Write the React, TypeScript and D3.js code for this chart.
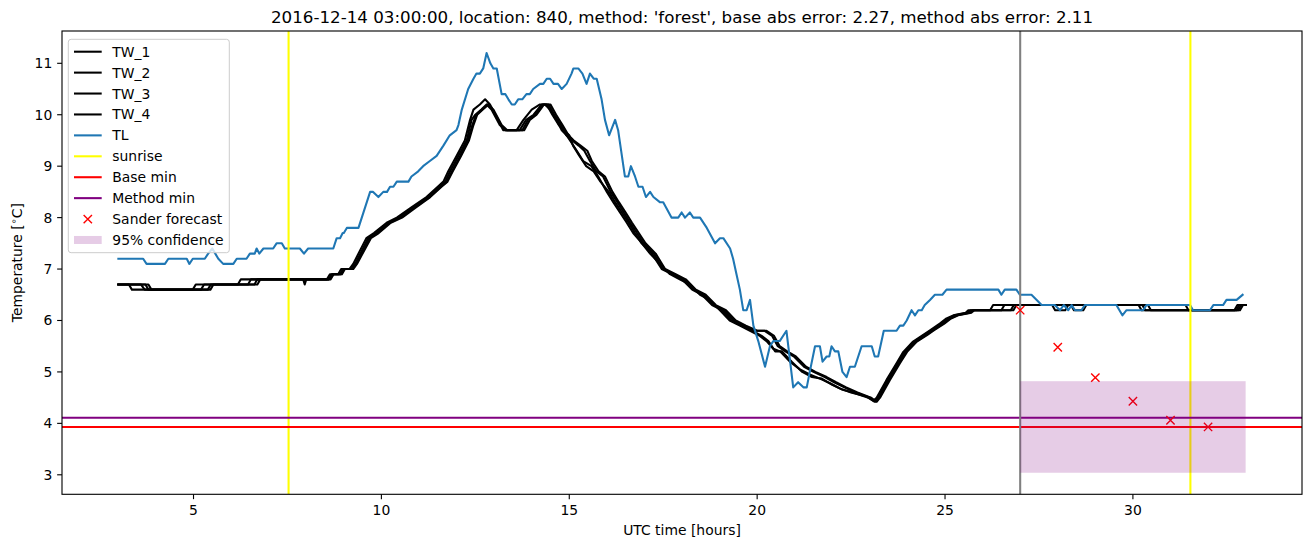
import React from "react";
import * as d3 from "d3";

// ---------- data (hours UTC, temperature °C) ----------
const TL: [number, number][] = [
  [3.0,7.2],[3.66,7.2],[3.75,7.1],[4.24,7.1],[4.33,7.2],[4.82,7.2],[4.89,7.1],[4.98,7.2],[5.3,7.2],[5.39,7.3],[5.5,7.4],[5.58,7.3],[5.66,7.2],[5.79,7.1],[6.06,7.1],[6.15,7.2],[6.41,7.2],[6.5,7.3],[6.63,7.3],[6.68,7.4],[6.75,7.3],[6.86,7.4],[7.12,7.4],[7.21,7.5],[7.35,7.5],[7.43,7.4],[7.83,7.4],[7.94,7.3],[8.05,7.4],[8.72,7.4],[8.81,7.6],[8.9,7.6],[8.97,7.7],[9.0,7.7],[9.08,7.8],[9.39,7.8],[9.7,8.5],[9.78,8.5],[9.92,8.4],[10.05,8.5],[10.15,8.5],[10.23,8.6],[10.32,8.6],[10.41,8.7],[10.72,8.7],[10.8,8.8],[10.98,8.9],[11.11,9.0],[11.29,9.1],[11.47,9.2],[11.65,9.4],[11.82,9.6],[12.0,9.7],[12.05,9.8],[12.14,10.1],[12.31,10.5],[12.45,10.7],[12.53,10.8],[12.62,10.8],[12.71,10.9],[12.8,11.2],[12.9,11.0],[12.98,10.9],[13.07,10.9],[13.2,10.4],[13.3,10.4],[13.38,10.3],[13.47,10.2],[13.55,10.2],[13.64,10.3],[13.75,10.3],[13.86,10.4],[13.95,10.4],[14.04,10.5],[14.22,10.6],[14.31,10.6],[14.4,10.7],[14.49,10.7],[14.58,10.6],[14.7,10.6],[14.8,10.5],[14.93,10.6],[15.06,10.8],[15.11,10.9],[15.24,10.9],[15.35,10.8],[15.46,10.6],[15.55,10.8],[15.65,10.7],[15.73,10.7],[15.86,10.3],[15.95,9.9],[16.06,9.6],[16.22,9.9],[16.3,9.7],[16.48,8.8],[16.57,8.8],[16.64,9.0],[16.75,8.8],[16.84,8.6],[16.95,8.6],[17.04,8.4],[17.15,8.5],[17.24,8.4],[17.41,8.3],[17.5,8.3],[17.72,8.0],[17.9,8.0],[17.99,8.1],[18.08,8.0],[18.21,8.1],[18.3,8.0],[18.48,8.0],[18.66,7.8],[18.88,7.5],[19.01,7.6],[19.1,7.6],[19.28,7.4],[19.36,7.2],[19.45,6.9],[19.54,6.6],[19.63,6.2],[19.72,6.2],[19.81,6.4],[19.9,5.9],[20.03,5.6],[20.21,5.1],[20.34,5.5],[20.43,5.6],[20.6,5.6],[20.78,5.8],[20.96,4.7],[21.09,4.8],[21.23,4.7],[21.32,4.7],[21.4,5.0],[21.54,5.5],[21.67,5.5],[21.74,5.2],[21.85,5.3],[21.92,5.3],[21.98,5.5],[22.07,5.4],[22.16,5.4],[22.27,5.0],[22.38,4.9],[22.47,5.1],[22.6,5.1],[22.78,5.5],[23.05,5.5],[23.13,5.3],[23.22,5.3],[23.37,5.8],[23.71,5.8],[23.8,5.9],[23.89,5.9],[23.98,6.0],[24.11,6.2],[24.2,6.1],[24.29,6.2],[24.38,6.2],[24.46,6.3],[24.6,6.4],[24.73,6.5],[24.93,6.5],[25.04,6.6],[26.42,6.6],[26.5,6.5],[26.59,6.6],[26.9,6.6],[26.99,6.5],[27.3,6.5],[27.44,6.4],[27.57,6.3],[27.92,6.3],[28.06,6.2],[28.16,6.3],[28.28,6.2],[28.37,6.3],[28.46,6.2],[28.63,6.2],[28.72,6.3],[29.56,6.3],[29.72,6.1],[29.83,6.2],[30.27,6.2],[30.36,6.3],[31.52,6.3],[31.6,6.2],[32.05,6.2],[32.14,6.3],[32.4,6.3],[32.49,6.4],[32.76,6.4],[32.92,6.5]
];

const TW_1: [number, number][] = [
  [3.0,6.7],[3.28,6.7],[3.36,6.6],[4.98,6.6],[5.06,6.7],[6.18,6.7],[6.26,6.8],[8.55,6.8],[8.63,6.9],[8.85,6.9],[8.93,7.0],[9.15,7.0],[9.25,7.1],[9.6,7.6],[9.8,7.7],[10.14,7.9],[10.41,8.0],[10.8,8.2],[11.2,8.4],[11.5,8.6],[11.65,8.7],[11.78,8.9],[12.0,9.2],[12.22,9.5],[12.36,9.9],[12.45,10.1],[12.62,10.2],[12.76,10.3],[12.89,10.2],[13.11,9.9],[13.24,9.7],[13.6,9.7],[13.78,9.9],[14.0,10.1],[14.22,10.2],[14.35,10.2],[14.49,10.1],[14.66,9.9],[14.8,9.7],[14.93,9.6],[15.02,9.5],[15.2,9.3],[15.37,9.1],[15.59,9.0],[15.77,8.8],[16.0,8.5],[16.17,8.3],[16.35,8.1],[16.53,7.9],[16.7,7.7],[16.88,7.55],[17.15,7.3],[17.41,7.1],[17.68,6.9],[17.94,6.8],[18.21,6.7],[18.48,6.5],[18.74,6.4],[19.01,6.2],[19.27,6.0],[19.54,5.9],[19.81,5.8],[20.07,5.7],[20.25,5.6],[20.43,5.45],[20.61,5.4],[20.87,5.2],[21.14,5.05],[21.4,4.95],[21.67,4.87],[21.94,4.78],[22.2,4.68],[22.5,4.6],[22.91,4.52],[23.09,4.44],[23.18,4.5],[23.44,4.84],[23.71,5.17],[23.89,5.39],[24.15,5.59],[24.42,5.72],[24.6,5.81],[24.86,5.94],[25.04,6.04],[25.22,6.1],[25.55,6.15],[25.62,6.2],[26.2,6.2],[26.28,6.3],[27.85,6.3],[27.93,6.2],[28.2,6.2],[28.28,6.3],[30.15,6.3],[30.23,6.2],[32.7,6.2],[32.78,6.3],[33.0,6.3]
];

const TW_2: [number, number][] = [
  [3.0,6.7],[3.6,6.7],[3.7,6.6],[5.2,6.6],[5.28,6.7],[6.45,6.7],[6.53,6.8],[7.92,6.8],[7.96,6.7],[8.0,6.8],[8.6,6.8],[8.68,6.9],[8.9,6.9],[8.98,7.0],[9.2,7.0],[9.3,7.1],[9.65,7.6],[9.85,7.7],[10.2,7.9],[10.45,8.0],[10.85,8.2],[11.25,8.4],[11.55,8.6],[11.7,8.7],[11.83,8.9],[12.05,9.2],[12.27,9.5],[12.4,9.9],[12.5,10.0],[12.66,10.1],[12.8,10.2],[12.93,10.1],[13.15,9.8],[13.3,9.7],[13.68,9.7],[13.85,9.9],[14.05,10.0],[14.27,10.2],[14.4,10.2],[14.55,10.0],[14.72,9.8],[14.85,9.7],[15.0,9.6],[15.1,9.4],[15.27,9.2],[15.45,9.0],[15.65,8.9],[15.83,8.7],[16.05,8.5],[16.22,8.3],[16.4,8.1],[16.58,7.9],[16.75,7.7],[16.93,7.5],[17.2,7.3],[17.46,7.0],[17.73,6.9],[18.0,6.8],[18.27,6.6],[18.53,6.5],[18.8,6.3],[19.06,6.2],[19.32,6.0],[19.6,5.9],[19.87,5.8],[20.12,5.7],[20.3,5.6],[20.48,5.4],[20.66,5.4],[20.92,5.2],[21.2,5.0],[21.46,4.9],[21.72,4.87],[22.0,4.75],[22.25,4.66],[22.55,4.6],[22.96,4.5],[23.12,4.42],[23.2,4.5],[23.46,4.84],[23.73,5.17],[23.92,5.39],[24.18,5.59],[24.45,5.72],[24.63,5.81],[24.9,5.94],[25.08,6.04],[25.26,6.1],[25.6,6.15],[25.68,6.2],[26.5,6.2],[26.58,6.3],[28.35,6.3],[28.43,6.2],[28.68,6.2],[28.76,6.3],[30.25,6.3],[30.33,6.2],[32.75,6.2],[32.83,6.3],[33.0,6.3]
];

const TW_3: [number, number][] = [
  [3.0,6.7],[3.72,6.7],[3.8,6.6],[5.38,6.6],[5.46,6.7],[6.62,6.7],[6.7,6.8],[8.6,6.8],[8.7,6.9],[8.92,6.9],[9.0,7.0],[9.22,7.0],[9.32,7.1],[9.68,7.6],[9.9,7.7],[10.22,7.9],[10.5,8.0],[10.88,8.2],[11.28,8.4],[11.58,8.6],[11.74,8.7],[11.88,8.9],[12.1,9.2],[12.3,9.5],[12.42,9.8],[12.52,10.0],[12.68,10.1],[12.83,10.2],[12.96,10.1],[13.18,9.8],[13.32,9.7],[13.75,9.7],[13.9,9.9],[14.1,10.0],[14.3,10.2],[14.45,10.2],[14.6,10.0],[14.78,9.8],[14.92,9.6],[15.08,9.5],[15.25,9.4],[15.4,9.3],[15.55,9.1],[15.72,8.9],[15.9,8.8],[16.1,8.5],[16.28,8.3],[16.45,8.1],[16.62,7.9],[16.8,7.7],[16.98,7.5],[17.25,7.3],[17.5,7.0],[17.78,6.9],[18.05,6.8],[18.32,6.6],[18.58,6.5],[18.85,6.3],[19.12,6.2],[19.38,6.0],[19.65,5.9],[19.95,5.8],[20.2,5.8],[20.4,5.7],[20.55,5.5],[20.75,5.4],[20.98,5.3],[21.25,5.1],[21.5,5.0],[21.8,4.9],[22.05,4.8],[22.32,4.7],[22.62,4.6],[23.0,4.5],[23.15,4.42],[23.24,4.5],[23.5,4.84],[23.77,5.17],[23.96,5.39],[24.22,5.59],[24.5,5.72],[24.68,5.81],[24.95,5.94],[25.13,6.04],[25.32,6.1],[25.66,6.15],[25.74,6.2],[26.75,6.2],[26.83,6.3],[30.4,6.3],[30.48,6.2],[32.8,6.2],[32.88,6.3],[33.0,6.3]
];

const TW_4: [number, number][] = [
  [3.0,6.7],[3.8,6.7],[3.88,6.6],[5.45,6.6],[5.53,6.7],[6.7,6.7],[6.78,6.8],[8.65,6.8],[8.73,6.9],[8.95,6.9],[9.03,7.0],[9.25,7.0],[9.35,7.1],[9.72,7.6],[9.93,7.7],[10.25,7.9],[10.55,8.0],[10.92,8.2],[11.3,8.4],[11.6,8.6],[11.76,8.7],[11.9,8.9],[12.12,9.2],[12.33,9.5],[12.45,9.8],[12.55,10.0],[12.7,10.1],[12.85,10.2],[12.98,10.1],[13.2,9.8],[13.35,9.7],[13.8,9.7],[13.95,9.9],[14.13,10.0],[14.33,10.2],[14.5,10.2],[14.65,10.0],[14.82,9.8],[14.98,9.6],[15.12,9.5],[15.3,9.4],[15.48,9.3],[15.6,9.1],[15.78,8.9],[15.95,8.8],[16.15,8.5],[16.32,8.3],[16.5,8.1],[16.67,7.9],[16.85,7.7],[17.03,7.5],[17.3,7.3],[17.55,7.0],[17.83,6.9],[18.1,6.8],[18.37,6.6],[18.63,6.5],[18.9,6.3],[19.17,6.2],[19.43,6.0],[19.7,5.9],[20.0,5.8],[20.25,5.8],[20.45,5.7],[20.6,5.5],[20.8,5.4],[21.03,5.3],[21.3,5.1],[21.55,5.0],[21.85,4.9],[22.1,4.8],[22.37,4.7],[22.67,4.6],[23.03,4.5],[23.18,4.42],[23.27,4.5],[23.53,4.84],[23.8,5.17],[23.99,5.39],[24.25,5.59],[24.53,5.72],[24.71,5.81],[24.98,5.94],[25.16,6.04],[25.35,6.1],[25.7,6.15],[25.78,6.2],[26.82,6.2],[26.9,6.3],[31.4,6.3],[31.48,6.2],[32.85,6.2],[32.93,6.3],[33.0,6.3]
];

const SUNRISE_HOURS = [7.53, 31.53];
const FORECAST_START = 27;
const BASE_MIN = 3.93;
const METHOD_MIN = 4.11;
const FORECAST_HOURS = [27, 28, 29, 30, 31, 32];
const FORECAST_VALUES = [6.2, 5.48, 4.89, 4.43, 4.06, 3.93];
const CONF_HOURS = [27, 33];
const CONF_LOW = 3.04;
const CONF_HIGH = 4.82;
const X_TICKS = [5, 10, 15, 20, 25, 30];
const Y_TICKS = [3, 4, 5, 6, 7, 8, 9, 10, 11];
const TITLE = "2016-12-14 03:00:00, location: 840, method: 'forest', base abs error: 2.27, method abs error: 2.11";

// ---------- layout ----------
const W = 1311, H = 547;
const L = 62, R = 1302, T = 31, B = 494.3;
const FONT = "'DejaVu Sans', sans-serif";
const LW = 2.08;

export default function App() {
  const x = d3.scaleLinear().domain([1.5, 34.5]).range([L, R]);
  const y = d3.scaleLinear().domain([3, 11]).range([474.8, 63.3]);
  const line = d3.line<[number, number]>().x(d => x(d[0])).y(d => y(d[1]));
  const tw = [TW_1, TW_2, TW_3, TW_4];
  const ms = 4.17;
  const legend = [
    { label: "TW_1", kind: "line", color: "#000000" },
    { label: "TW_2", kind: "line", color: "#000000" },
    { label: "TW_3", kind: "line", color: "#000000" },
    { label: "TW_4", kind: "line", color: "#000000" },
    { label: "TL", kind: "line", color: "#1f77b4" },
    { label: "sunrise", kind: "line", color: "#ffff00" },
    { label: "Base min", kind: "line", color: "#ff0000" },
    { label: "Method min", kind: "line", color: "#800080" },
    { label: "Sander forecast", kind: "marker", color: "#ff0000" },
    { label: "95% confidence", kind: "patch", color: "#800080" },
  ];
  return (
    <div style={{ position: "absolute", left: 0, top: 0 }}>
      <svg width={W} height={H} style={{ display: "block", background: "#fff" }} fontFamily={FONT}>
        <defs>
          <clipPath id="plot"><rect x={L} y={T} width={R - L} height={B - T} /></clipPath>
        </defs>
        <rect x={0} y={0} width={W} height={H} fill="#fff" />
        <g clipPath="url(#plot)">
          {tw.map((s, i) => (
            <path key={i} d={line(s) || ""} fill="none" stroke="#000" strokeWidth={LW} strokeLinejoin="round" strokeLinecap="square" />
          ))}
          <path d={line(TL) || ""} fill="none" stroke="#1f77b4" strokeWidth={LW} strokeLinejoin="round" strokeLinecap="square" />
          {SUNRISE_HOURS.map((h, i) => (
            <line key={i} x1={x(h)} x2={x(h)} y1={T} y2={B} stroke="#ffff00" strokeWidth={LW} />
          ))}
          <line x1={L} x2={R} y1={y(BASE_MIN)} y2={y(BASE_MIN)} stroke="#ff0000" strokeWidth={LW} />
          <line x1={L} x2={R} y1={y(METHOD_MIN)} y2={y(METHOD_MIN)} stroke="#800080" strokeWidth={LW} />
          <line x1={x(FORECAST_START)} x2={x(FORECAST_START)} y1={T} y2={B} stroke="#808080" strokeWidth={LW} />
          {FORECAST_HOURS.map((h, i) => (
            <path key={i} transform={`translate(${x(h)},${y(FORECAST_VALUES[i])})`}
              d={`M${-ms},${-ms}L${ms},${ms}M${-ms},${ms}L${ms},${-ms}`} stroke="#ff0000" strokeWidth={1.39} fill="none" />
          ))}
          <rect x={x(CONF_HOURS[0])} width={x(CONF_HOURS[1]) - x(CONF_HOURS[0])}
            y={y(CONF_HIGH)} height={y(CONF_LOW) - y(CONF_HIGH)} fill="#800080" fillOpacity={0.2} />
        </g>
        {/* axes frame */}
        <rect x={L} y={T} width={R - L} height={B - T} fill="none" stroke="#000" strokeWidth={1.11} />
        {X_TICKS.map(t => (
          <g key={t}>
            <line x1={x(t)} x2={x(t)} y1={B} y2={B + 4.86} stroke="#000" strokeWidth={1.11} />
            <text x={x(t)} y={515} textAnchor="middle" fontSize={13.9} fill="#000">{t}</text>
          </g>
        ))}
        {Y_TICKS.map(t => (
          <g key={t}>
            <line x1={L} x2={L - 4.86} y1={y(t)} y2={y(t)} stroke="#000" strokeWidth={1.11} />
            <text x={52.3} y={y(t) + 5} textAnchor="end" fontSize={13.9} fill="#000">{t}</text>
          </g>
        ))}
        <text x={(L + R) / 2} y={535} textAnchor="middle" fontSize={13.9} fill="#000">UTC time [hours]</text>
        <text transform={`translate(22,${(T + B) / 2}) rotate(-90)`} textAnchor="middle" fontSize={13.9} fill="#000">
          Temperature [<tspan fontSize={9.7} dy={-5}>∘</tspan><tspan dy={5}>C]</tspan>
        </text>
        <text x={(L + R) / 2} y={23} textAnchor="middle" fontSize={16.7} fill="#000">{TITLE}</text>
        {/* legend */}
        <rect x={68.3} y={39.3} width={161} height={213.4} rx={2.8} fill="#fff" fillOpacity={0.8} stroke="#cccccc" strokeWidth={1} />
        {legend.map((e, i) => {
          const cy = 51.7 + i * 20.92;
          return (
            <g key={e.label}>
              {e.kind === "line" && <line x1={74} x2={101.7} y1={cy} y2={cy} stroke={e.color} strokeWidth={LW} />}
              {e.kind === "marker" && (
                <path transform={`translate(87.8,${cy})`} d={`M${-ms},${-ms}L${ms},${ms}M${-ms},${ms}L${ms},${-ms}`} stroke={e.color} strokeWidth={1.39} />
              )}
              {e.kind === "patch" && <rect x={74} y={cy - 4} width={27.7} height={8} fill={e.color} fillOpacity={0.2} />}
              <text x={112.3} y={cy + 5} fontSize={13.9} fill="#000">{e.label}</text>
            </g>
          );
        })}
      </svg>
    </div>
  );
}
